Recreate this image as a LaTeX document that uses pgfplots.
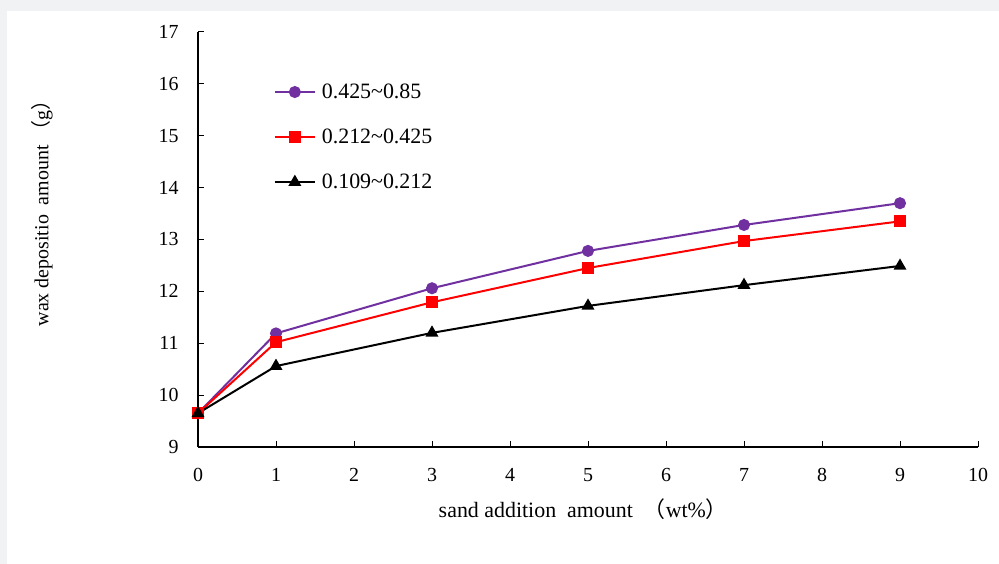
\documentclass[border=0pt]{standalone}
\usepackage{fontspec}
\setmainfont{Liberation Serif}
\newfontfamily\cjk{Noto Sans CJK SC}
\usepackage{pgfplots}
\pgfplotsset{compat=1.18}
\definecolor{bggray}{HTML}{F1F2F4}
\definecolor{mypurple}{HTML}{7030A0}
\begin{document}
\begin{tikzpicture}
\useasboundingbox (0,0) rectangle (999bp,564bp);
\fill[bggray] (0,0) rectangle (999bp,564bp);
\fill[white] (7bp,0) rectangle (999bp,553bp);
\begin{axis}[
  at={(198bp,117bp)}, anchor=south west,
  scale only axis, width=780bp, height=415bp,
  xmin=0, xmax=10, ymin=9, ymax=17,
  xtick={0,1,...,10}, ytick={9,10,...,17},
  axis lines=left,
  axis line style={-, line width=1.3bp},
  tick align=inside,
  major tick length=6bp,
  tick style={line width=1bp, black},
  /pgf/number format/assume math mode=true,
  tick label style={font=\fontsize{20}{24}\selectfont},
  xticklabel style={yshift=-18bp},
  yticklabel style={xshift=-16bp},
  xlabel={sand addition\ \ amount\ \ {\cjk （}wt\%{\cjk ）}},
  xlabel style={at={(axis description cs:0.494,-0.15)}, anchor=center, font=\fontsize{22}{26}\selectfont},
  ylabel={wax depositio\ \ amount\ {\cjk （}g{\cjk ）}},
  ylabel style={at={(axis description cs:-0.20,0.575)}, anchor=center, rotate=0, font=\fontsize{20}{24}\selectfont},
  legend style={draw=none, fill=none, at={(axis description cs:0.097,0.88)}, anchor=north west,
    font=\fontsize{22}{26}\selectfont, row sep=25bp, inner sep=0pt,
    nodes={inner xsep=6bp}},
  legend cell align=left,
  legend image code/.code={
    \draw[#1] (0bp,0bp) -- (40bp,0bp);
    \draw[#1, mark repeat=2, mark phase=2] plot coordinates {(0bp,0bp) (20bp,0bp) (40bp,0bp)};
  },
  clip=false,
]
\addplot[mypurple, line width=2bp, mark=*, mark size=5bp, mark options={solid}] coordinates {
 (0,9.65) (1,11.19) (3,12.06) (5,12.78) (7,13.28) (9,13.70)};
\addlegendentry{0.425\char`~0.85}
\addplot[red, line width=2bp, mark=square*, mark size=5bp, mark options={solid}] coordinates {
 (0,9.65) (1,11.02) (3,11.79) (5,12.45) (7,12.97) (9,13.35)};
\addlegendentry{0.212\char`~0.425}
\addplot[black, line width=2bp, mark=triangle*, mark size=5.5bp, mark options={solid}] coordinates {
 (0,9.65) (1,10.56) (3,11.20) (5,11.72) (7,12.12) (9,12.49)};
\addlegendentry{0.109\char`~0.212}
\end{axis}
\end{tikzpicture}
\end{document}
